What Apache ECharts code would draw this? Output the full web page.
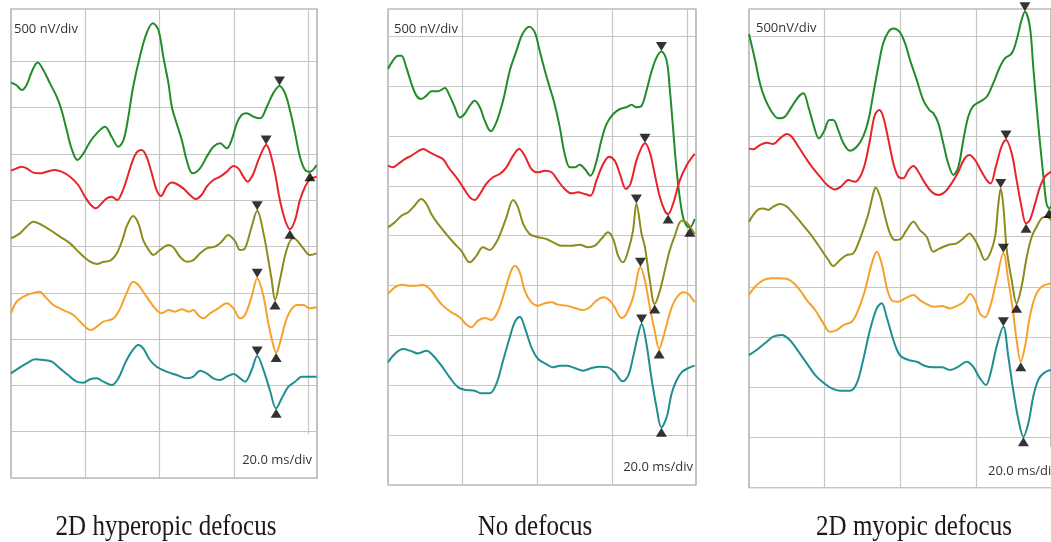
<!DOCTYPE html>
<html><head><meta charset="utf-8">
<script src="https://cdn.jsdelivr.net/npm/echarts@6/dist/echarts.min.js"></script>
<style>html,body{margin:0;padding:0;background:#fff}#c{width:1051px;height:542px}</style>
</head><body><div id="c"></div>
<script>
// ---- data: x in ms, y in nV (stacked trace positions) ----
const panelTitles = ['2D hyperopic defocus', 'No defocus', '2D myopic defocus'];
const voltLabels = ['500 nV/div', '500 nV/div', '500nV/div'];
const timeLabels = ['20.0 ms/div', '20.0 ms/div', '20.0 ms/div'];
const yTicks = [0, 500, 1000, 1500, 2000, 2500, 3000, 3500, 4000, 4500];
const xTicks = [0, 20, 40, 60, 80];

const p1Green = [[0,4270],[1.4,4244],[2.9,4190],[4.2,4244],[5.6,4388],[7.2,4486],[8.7,4406],[10.5,4262],[12.3,4118],[13.6,3974],[15.0,3758],[16.3,3560],[17.9,3434],[19.5,3506],[21.3,3632],[23.1,3722],[25.3,3794],[27.1,3686],[28.9,3578],[30.3,3650],[31.6,3902],[32.9,4226],[34.7,4550],[36.5,4802],[38.2,4910],[39.7,4838],[41.0,4550],[42.4,4262],[43.3,4010],[44.6,3830],[46.0,3650],[47.3,3434],[48.9,3290],[50.9,3344],[52.7,3470],[54.5,3578],[56.3,3614],[58.1,3560],[59.4,3650],[60.8,3830],[62.1,3920],[63.5,3938],[65.3,3902],[67.1,3884],[68.9,4010],[70.6,4154],[72.3,4234],[73.8,4154],[75.1,3974],[76.5,3722],[77.8,3470],[79.2,3326],[80.5,3308],[82.3,3380]];
const p1Red = [[0,3319],[1.5,3344],[2.9,3362],[4.2,3344],[6.0,3298],[7.8,3290],[9.6,3308],[11.8,3326],[13.6,3308],[15.9,3254],[18.1,3164],[19.9,3038],[21.5,2948],[22.9,2912],[24.4,2966],[25.8,3020],[27.1,3038],[28.6,3002],[29.8,3074],[31.1,3218],[32.5,3398],[33.8,3514],[35.2,3542],[36.5,3470],[37.9,3290],[39.2,3110],[40.4,3046],[41.9,3146],[43.3,3190],[44.6,3175],[46.4,3128],[48.2,3056],[49.8,3013],[51.3,3056],[52.7,3146],[54.5,3218],[56.3,3254],[58.1,3308],[59.9,3370],[61.2,3344],[62.6,3254],[63.7,3200],[65.1,3272],[66.6,3434],[68.0,3560],[68.7,3596],[69.7,3524],[71.1,3290],[72.4,3002],[73.8,2786],[75.1,2686],[76.5,2786],[77.8,3002],[79.2,3146],[80.5,3226],[82.3,3254]];
const p1Olive = [[0,2588],[2.4,2642],[4.2,2714],[6.0,2768],[7.8,2743],[10.5,2678],[13.2,2606],[15.9,2534],[18.6,2426],[21.3,2336],[23.1,2311],[24.9,2336],[26.7,2347],[28.5,2426],[30.3,2606],[31.1,2714],[32.9,2830],[34.3,2750],[35.6,2570],[37.4,2444],[38.3,2408],[40.1,2462],[42.4,2516],[43.7,2491],[45.5,2390],[47.3,2336],[49.1,2354],[50.9,2426],[52.7,2480],[54.9,2498],[56.7,2552],[58.5,2624],[60.3,2560],[61.7,2462],[63.0,2480],[64.8,2714],[66.3,2887],[68.0,2642],[69.3,2354],[70.2,2138],[71.1,1922],[72.4,2138],[74.2,2462],[75.9,2588],[76.9,2570],[78.7,2480],[80.5,2408],[82.3,2426]];
const p1Orange = [[0,1778],[1.5,1904],[3.3,1958],[5.6,1994],[7.6,2012],[9.2,1958],[11.4,1868],[14.1,1814],[16.8,1760],[19.5,1652],[21.5,1598],[23.1,1634],[24.9,1688],[27.6,1724],[29.4,1832],[31.1,1994],[32.9,2120],[34.3,2084],[36.5,1958],[38.8,1832],[40.6,1778],[42.4,1814],[44.2,1796],[46.0,1822],[47.8,1796],[49.1,1814],[50.4,1760],[51.8,1724],[53.6,1778],[55.8,1832],[58.1,1886],[59.9,1832],[61.7,1724],[63.0,1760],[64.8,1958],[66.3,2156],[68.0,1958],[69.3,1670],[70.5,1454],[71.4,1354],[72.4,1454],[73.8,1670],[75.1,1796],[76.9,1868],[78.7,1868],[80.5,1832],[82.3,1843]];
const p1Teal = [[0,1130],[2.0,1184],[4.2,1238],[6.5,1282],[8.7,1274],[11.0,1256],[13.2,1184],[15.4,1112],[17.7,1040],[19.5,1030],[21.3,1066],[23.1,1076],[24.9,1040],[27.1,1004],[28.9,1076],[30.7,1238],[32.5,1364],[34.3,1436],[35.6,1400],[37.4,1274],[39.2,1202],[41.9,1148],[44.6,1112],[47.3,1076],[49.1,1094],[50.9,1159],[52.7,1130],[54.5,1076],[56.3,1058],[58.1,1094],[59.9,1123],[61.7,1076],[63.0,1040],[64.8,1166],[66.3,1318],[68.0,1166],[69.7,950],[71.4,752],[72.9,860],[74.7,986],[76.5,1040],[78.3,1094],[80.5,1094],[82.3,1094]];
const p1Peaks = [[72.3,4234],[68.7,3596],[66.3,2887],[66.3,2156],[66.3,1318]];
const p1Troughs = [[80.5,3308],[75.1,2686],[71.1,1922],[71.4,1354],[71.4,752]];

const p2Green = [[0,4172],[1.3,4256],[2.7,4306],[3.6,4306],[4.9,4189],[6.3,4022],[7.6,3905],[8.9,3871],[10.3,3905],[11.6,3948],[13.4,3948],[15.2,3982],[16.5,3905],[17.9,3788],[19.2,3687],[20.5,3721],[21.9,3804],[23.2,3854],[24.6,3788],[25.9,3654],[27.5,3547],[29.0,3637],[30.8,3854],[32.6,4155],[34.4,4356],[36.0,4523],[37.8,4597],[39.3,4540],[40.6,4356],[42.0,4155],[43.3,3988],[44.6,3821],[46.0,3587],[47.3,3320],[48.7,3186],[50.0,3186],[51.3,3213],[52.7,3169],[54.2,3102],[55.6,3219],[57.1,3453],[58.5,3620],[60.3,3721],[62.1,3771],[63.8,3788],[65.2,3814],[66.5,3788],[67.9,3804],[69.2,3955],[70.5,4139],[71.9,4289],[73.2,4349],[74.6,4256],[75.4,3988],[76.3,3587],[77.2,3186],[78.1,2885],[79.0,2684],[79.9,2601],[80.8,2584],[82.1,2668]];
const p2Red = [[0,3203],[1.3,3186],[2.7,3219],[4.5,3269],[6.3,3303],[8.0,3346],[9.4,3370],[11.2,3336],[12.9,3303],[14.7,3269],[16.5,3169],[18.3,3086],[20.1,2985],[21.9,2885],[23.2,2858],[24.6,2918],[26.3,3019],[28.1,3086],[29.9,3119],[31.7,3186],[33.5,3303],[35.1,3370],[36.6,3303],[38.4,3169],[40.2,3136],[42.0,3152],[43.8,3136],[45.5,3052],[47.3,2969],[49.1,2925],[50.9,2935],[52.7,2918],[54.2,2902],[55.8,3052],[57.6,3219],[59.2,3293],[60.7,3253],[62.1,3119],[63.7,2969],[64.9,3019],[66.5,3253],[67.9,3386],[68.8,3427],[70.1,3336],[71.4,3119],[72.8,2885],[74.1,2751],[75.0,2718],[76.3,2818],[78.1,3052],[79.9,3203],[82.1,3320]];
const p2Olive = [[0,2584],[1.8,2634],[3.6,2701],[5.4,2735],[7.1,2801],[8.9,2868],[10.3,2818],[11.6,2718],[13.4,2618],[15.6,2517],[17.9,2417],[19.6,2350],[21.9,2233],[23.7,2300],[25.4,2384],[27.2,2357],[29.0,2434],[30.4,2551],[31.7,2684],[33.5,2858],[34.8,2785],[36.2,2618],[37.9,2517],[39.7,2490],[42.4,2467],[44.2,2434],[46.4,2400],[49.1,2400],[51.3,2410],[53.6,2384],[55.4,2400],[57.1,2467],[58.9,2534],[60.3,2467],[61.6,2300],[62.9,2233],[64.3,2350],[65.6,2551],[66.5,2818],[67.9,2517],[68.8,2384],[70.1,2049],[71.4,1815],[72.8,1949],[74.1,2150],[75.4,2350],[76.8,2501],[78.6,2651],[79.9,2634],[82.1,2517]];
const p2Orange = [[0,1916],[1.8,1982],[3.6,2009],[5.8,1999],[7.6,1999],[9.4,2006],[11.2,1966],[12.9,1882],[14.7,1799],[17.0,1732],[19.2,1682],[20.8,1615],[22.3,1581],[24.1,1648],[25.9,1675],[27.7,1655],[29.5,1748],[31.3,1949],[32.8,2133],[33.9,2200],[35.3,2133],[36.6,1949],[38.4,1832],[40.2,1799],[42.0,1822],[43.8,1832],[45.5,1809],[47.8,1799],[50.0,1775],[52.2,1755],[54.0,1782],[55.8,1849],[57.8,1882],[59.4,1849],[60.7,1782],[62.5,1675],[63.8,1715],[65.6,1882],[67.6,2183],[68.8,2049],[70.1,1782],[71.4,1548],[72.6,1364],[73.7,1481],[75.0,1665],[76.3,1815],[77.7,1899],[79.0,1932],[80.4,1916],[82.1,1832]];
const p2Teal = [[0,1230],[1.8,1314],[4.0,1364],[6.3,1341],[8.0,1320],[10.3,1347],[12.1,1297],[14.3,1197],[16.5,1080],[18.8,979],[21.0,953],[23.2,946],[25.0,919],[27.2,919],[29.0,1013],[30.8,1247],[32.6,1481],[33.9,1631],[35.3,1688],[36.6,1581],[38.4,1381],[40.2,1264],[42.4,1213],[44.2,1180],[46.0,1197],[47.8,1197],[50.0,1173],[52.2,1147],[54.5,1173],[56.7,1187],[58.9,1180],[60.7,1130],[62.8,1040],[64.3,1096],[65.6,1280],[67.0,1514],[67.9,1615],[69.2,1414],[70.5,1080],[71.9,779],[73.2,578],[74.6,679],[75.9,913],[77.2,1046],[78.6,1130],[80.4,1173],[82.1,1197]];
const p2Peaks = [[73.2,4349],[68.8,3427],[66.5,2818],[67.6,2183],[67.9,1615]];
const p2Troughs = [[80.8,2584],[75.0,2718],[71.4,1815],[72.6,1364],[73.2,578]];

const p3Green = [[0,4520],[1.6,4260],[2.9,4027],[4.2,3878],[6.0,3745],[7.8,3679],[9.5,3695],[11.3,3795],[13.1,3894],[14.4,3928],[15.7,3795],[17.2,3596],[18.5,3479],[19.8,3546],[21.3,3662],[22.3,3662],[23.6,3562],[25.0,3430],[26.7,3357],[28.5,3396],[30.2,3496],[31.6,3662],[32.9,3928],[34.2,4193],[35.5,4426],[36.9,4542],[38.2,4575],[39.8,4542],[41.3,4426],[42.6,4260],[44.4,4060],[46.1,3861],[47.7,3762],[48.8,3728],[50.1,3629],[51.4,3430],[52.7,3230],[54.1,3114],[55.4,3197],[56.7,3463],[58.0,3695],[59.3,3801],[61.1,3845],[62.9,3894],[64.6,4027],[66.4,4193],[67.7,4276],[69.5,4326],[70.8,4459],[72.1,4658],[73.0,4741],[74.3,4592],[75.2,4193],[76.1,3795],[77.0,3430],[77.9,3098],[78.7,2832],[79.4,2782],[80.9,2898]];
const p3Red = [[0,3380],[1.1,3370],[2.9,3413],[4.7,3436],[6.4,3423],[8.2,3479],[10.0,3523],[11.3,3496],[13.1,3396],[14.8,3297],[16.6,3197],[18.8,3098],[20.7,3015],[22.8,2971],[24.5,3005],[26.3,3064],[28.0,3048],[29.4,3098],[30.7,3230],[32.0,3463],[33.3,3712],[34.5,3762],[35.5,3695],[36.9,3463],[38.2,3230],[39.5,3098],[40.8,3081],[42.2,3164],[43.5,3204],[44.8,3147],[46.6,3031],[48.3,2948],[50.1,2915],[51.9,2948],[53.6,3031],[55.4,3147],[56.9,3270],[58.3,3313],[59.8,3264],[61.3,3164],[62.9,3064],[63.9,3031],[65.3,3197],[66.8,3396],[68.0,3463],[69.5,3330],[70.8,3064],[72.1,2799],[73.3,2633],[74.3,2666],[75.7,2832],[77.0,2998],[78.3,3098],[79.9,3147],[81.5,3170]];
const p3Olive = [[0,2649],[1.1,2716],[2.5,2772],[3.8,2782],[5.1,2766],[6.4,2799],[8.2,2825],[10.0,2799],[11.7,2732],[13.9,2633],[16.1,2533],[18.3,2417],[21.0,2268],[22.3,2208],[24.1,2268],[25.8,2317],[27.6,2334],[28.9,2434],[30.2,2566],[31.6,2732],[32.9,2932],[33.5,2991],[34.7,2898],[36.0,2699],[37.3,2533],[38.6,2467],[39.9,2473],[41.7,2566],[43.5,2649],[45.2,2566],[47.0,2500],[48.8,2351],[50.5,2384],[52.7,2417],[54.9,2434],[56.7,2483],[58.3,2533],[59.8,2467],[61.1,2367],[62.4,2268],[63.8,2334],[65.1,2500],[65.9,2799],[66.6,2981],[67.3,2799],[68.2,2367],[69.5,2068],[70.8,1836],[72.1,2002],[73.5,2301],[74.8,2500],[76.1,2600],[77.4,2683],[78.7,2699],[80.1,2666],[81.5,2650]];
const p3Orange = [[0,1919],[1.6,2002],[3.8,2068],[6.0,2085],[8.2,2085],[10.8,2068],[13.1,1985],[15.3,1869],[17.5,1770],[19.7,1637],[21.4,1554],[23.2,1570],[25.0,1620],[27.2,1653],[28.9,1770],[30.7,1969],[32.5,2234],[33.8,2351],[35.1,2234],[36.4,2002],[37.7,1869],[39.5,1853],[41.3,1886],[43.5,1919],[45.2,1869],[47.0,1829],[48.8,1803],[51.0,1809],[53.2,1786],[55.4,1819],[56.9,1853],[58.5,1929],[59.8,1869],[61.1,1736],[62.4,1697],[63.8,1803],[65.5,2068],[67.3,2334],[68.6,2068],[69.8,1770],[70.8,1471],[71.9,1255],[73.0,1404],[74.3,1703],[75.7,1902],[77.4,2002],[79.9,2035],[81.5,2040]];
const p3Teal = [[0,1321],[2.0,1371],[4.2,1438],[6.4,1504],[8.6,1521],[10.8,1471],[13.1,1355],[15.3,1238],[17.5,1122],[19.7,1046],[21.9,989],[24.1,966],[26.7,966],[28.5,1039],[30.2,1272],[32.0,1570],[33.8,1786],[35.1,1836],[36.4,1703],[38.2,1471],[39.9,1321],[42.2,1272],[44.4,1255],[46.6,1212],[48.8,1199],[51.0,1199],[53.2,1172],[55.4,1205],[57.6,1255],[59.3,1205],[61.1,1089],[62.7,1023],[63.9,1139],[65.5,1404],[67.3,1604],[68.6,1305],[69.9,973],[71.3,674],[72.6,508],[73.9,641],[75.2,906],[76.5,1072],[77.9,1139],[79.9,1172],[81.5,1175]];
const p3Peaks = [[73.0,4741],[68.0,3463],[66.6,2981],[67.3,2334],[67.3,1604]];
const p3Troughs = [[79.4,2782],[73.3,2633],[70.8,1836],[71.9,1255],[72.6,508]];

// ---- layout / style ----
const traceColors = ['#228b2a', '#e8242a', '#8c8c1e', '#f7a12c', '#1f8e92'];
const panels = [
  { traces: [p1Green, p1Red, p1Olive, p1Orange, p1Teal], peaks: p1Peaks, troughs: p1Troughs,
    grid: {left: 11, top: 9, width: 306, height: 469}, xMax: 82.4, yMax: 5065 },
  { traces: [p2Green, p2Red, p2Olive, p2Orange, p2Teal], peaks: p2Peaks, troughs: p2Troughs,
    grid: {left: 388, top: 9, width: 308, height: 476}, xMax: 82.46, yMax: 4774 },
  { traces: [p3Green, p3Red, p3Olive, p3Orange, p3Teal], peaks: p3Peaks, troughs: p3Troughs,
    grid: {left: 749, top: 9, width: 302, height: 478.7}, xMax: 79.9, yMax: 4768 }
];

const gridLine = {show: true, lineStyle: {color: '#c6c6c6', width: 1.2}};
const grids = [], xAxes = [], yAxes = [], series = [];
panels.forEach((p, i) => {
  grids.push(Object.assign({show: true, borderColor: '#9a9a9a', borderWidth: 1.2, backgroundColor: 'transparent', containLabel: false}, p.grid));
  xAxes.push({type: 'value', gridIndex: i, min: 0, max: p.xMax, interval: 20,
    axisLine: {show: false}, axisLabel: {show: false}, axisTick: {show: false, customValues: xTicks}, splitLine: gridLine});
  yAxes.push({type: 'value', gridIndex: i, min: 0, max: p.yMax, interval: 500,
    axisLine: {show: false}, axisLabel: {show: false}, axisTick: {show: false, customValues: yTicks}, splitLine: gridLine});
  p.traces.forEach((d, k) => {
    series.push({type: 'line', xAxisIndex: i, yAxisIndex: i, data: d, showSymbol: false, symbol: 'none',
      smooth: 0.35, lineStyle: {color: traceColors[k], width: 2}, itemStyle: {color: traceColors[k]}, z: 3, silent: true});
  });
  series.push({type: 'scatter', xAxisIndex: i, yAxisIndex: i, data: p.peaks, symbol: 'triangle',
    symbolSize: [11, 9], symbolRotate: 180, symbolOffset: [0, -5], itemStyle: {color: '#000'}, z: 10, clip: false, silent: true});
  series.push({type: 'scatter', xAxisIndex: i, yAxisIndex: i, data: p.troughs, symbol: 'triangle',
    symbolSize: [11, 9], symbolOffset: [0, 5], itemStyle: {color: '#000'}, z: 10, clip: false, silent: true});
});

const smallText = {fontFamily: 'Open Sans', fontSize: 13, fontWeight: 'normal', color: '#333', lineHeight: 16};
const titles = [
  {text: voltLabels[0], left: 14, top: 21, padding: 0, textStyle: smallText},
  {text: voltLabels[1], left: 394, top: 21, padding: 0, textStyle: smallText},
  {text: voltLabels[2], left: 756, top: 20, padding: 0, textStyle: smallText},
  {text: timeLabels[0], right: 736, top: 434, padding: [18, 3, 9, 6], backgroundColor: '#fff', textStyle: smallText},
  {text: timeLabels[1], right: 356, top: 437, padding: [22, 2, 9, 6], backgroundColor: '#fff', textStyle: smallText},
  {text: timeLabels[2], left: 984, top: 447, padding: [16, 10, 8, 4], backgroundColor: '#fff', textStyle: smallText}
];

const titleFont = '25px "Liberation Serif", "DejaVu Serif", serif';
const graphic = [
  {type: 'text', x: 166, y: 527, scaleY: 1.2, style: {text: panelTitles[0], align: 'center', verticalAlign: 'middle', font: titleFont, fill: '#1a1a1a'}},
  {type: 'text', x: 535, y: 527, scaleY: 1.2, style: {text: panelTitles[1], align: 'center', verticalAlign: 'middle', font: titleFont, fill: '#1a1a1a'}},
  {type: 'text', x: 914, y: 527, scaleY: 1.2, style: {text: panelTitles[2], align: 'center', verticalAlign: 'middle', font: titleFont, fill: '#1a1a1a'}}
];

const chart = echarts.init(document.getElementById('c'), null, {renderer: 'canvas'});
chart.setOption({
  animation: false,
  backgroundColor: '#fff',
  title: titles,
  grid: grids,
  xAxis: xAxes,
  yAxis: yAxes,
  series: series,
  graphic: graphic
});
</script></body></html>
